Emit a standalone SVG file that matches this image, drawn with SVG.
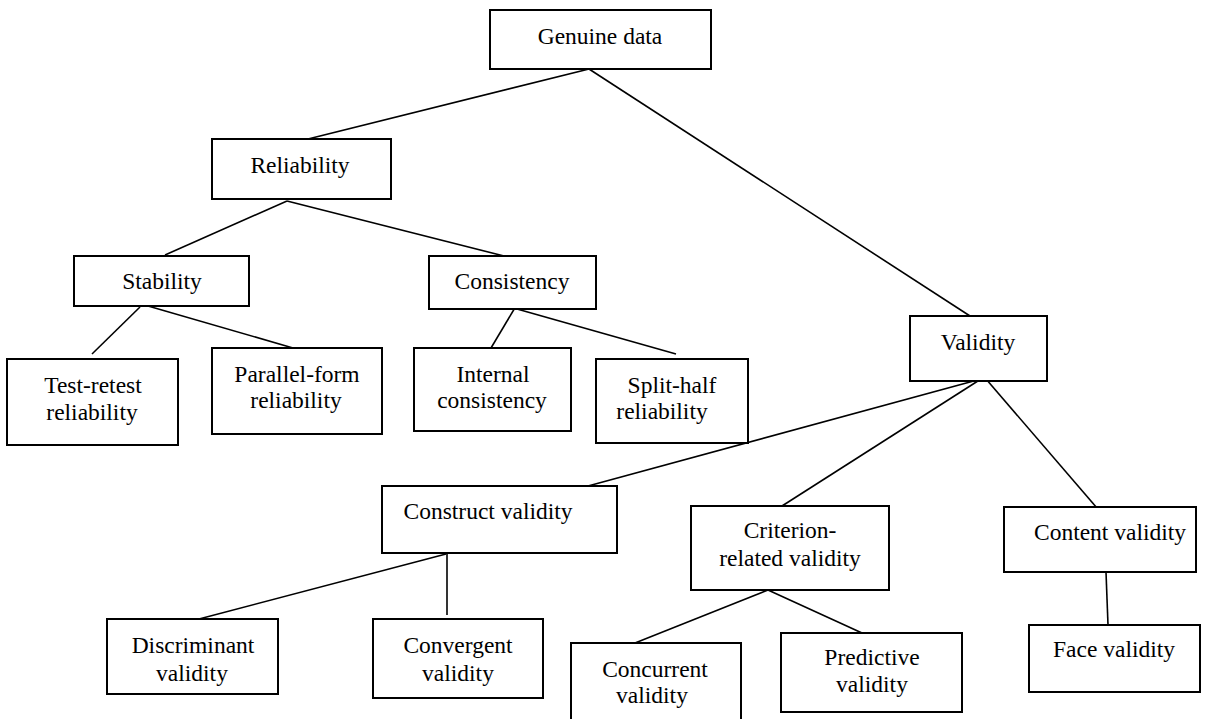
<svg xmlns="http://www.w3.org/2000/svg" width="1209" height="719" viewBox="0 0 1209 719">
<style>
.box{fill:#fff;stroke:#000;stroke-width:2}
.t{font-family:"Liberation Serif","Times New Roman",serif;font-size:23.5px;fill:#000;text-anchor:middle}
.c line{stroke:#000;stroke-width:1.6}
</style>
<rect width="1209" height="719" fill="#fff"/>
<g id="connectors" class="c">
<line x1="589" y1="69" x2="308" y2="139"/>
<line x1="589" y1="69" x2="970" y2="316"/>
<line x1="287" y1="201" x2="165" y2="255"/>
<line x1="287" y1="201" x2="504" y2="256"/>
<line x1="140" y1="307" x2="92" y2="354"/>
<line x1="148" y1="306" x2="293" y2="348"/>
<line x1="516" y1="306" x2="491" y2="348"/>
<line x1="517" y1="309" x2="676" y2="354"/>
<line x1="981" y1="379" x2="588" y2="486"/>
<line x1="981" y1="379" x2="782" y2="506"/>
<line x1="986" y1="379" x2="1103" y2="515"/>
<line x1="446" y1="554" x2="199" y2="619"/>
<line x1="447" y1="554" x2="447" y2="615"/>
<line x1="768" y1="590" x2="635" y2="643"/>
<line x1="768" y1="590" x2="862" y2="633"/>
<line x1="1106" y1="572" x2="1108" y2="625"/>
</g>
<g id="genuine-data"><rect class="box" x="490" y="10" width="221" height="59"/><text class="t" x="600" y="44">Genuine data</text></g>
<g id="reliability"><rect class="box" x="212" y="139" width="179" height="60"/><text class="t" x="300" y="173">Reliability</text></g>
<g id="stability"><rect class="box" x="74" y="256" width="175" height="50"/><text class="t" x="162" y="289">Stability</text></g>
<g id="consistency"><rect class="box" x="429" y="256" width="167" height="53"/><text class="t" x="512" y="289">Consistency</text></g>
<g id="test-retest"><rect class="box" x="7" y="359" width="171" height="86"/><text class="t" x="93" y="393">Test-retest</text><text class="t" x="92" y="420">reliability</text></g>
<g id="parallel-form"><rect class="box" x="212" y="348" width="170" height="86"/><text class="t" x="297" y="382">Parallel-form</text><text class="t" x="296" y="408">reliability</text></g>
<g id="internal-consistency"><rect class="box" x="414" y="348" width="157" height="83"/><text class="t" x="493" y="382">Internal</text><text class="t" x="492" y="408">consistency</text></g>
<g id="split-half"><rect class="box" x="596" y="359" width="152" height="84"/><text class="t" x="672" y="393">Split-half</text><text class="t" x="662" y="419">reliability</text></g>
<g id="validity"><rect class="box" x="910" y="316" width="137" height="65"/><text class="t" x="978" y="350">Validity</text></g>
<g id="construct-validity"><rect class="box" x="382" y="486" width="235" height="67"/><text class="t" x="488" y="519">Construct validity</text></g>
<g id="criterion-related-validity"><rect class="box" x="691" y="506" width="198" height="84"/><text class="t" x="790" y="538">Criterion-</text><text class="t" x="790" y="566">related validity</text></g>
<g id="content-validity"><rect class="box" x="1004" y="507" width="192" height="65"/><text class="t" x="1110" y="540">Content validity</text></g>
<g id="face-validity"><rect class="box" x="1029" y="625" width="171" height="67"/><text class="t" x="1114" y="657">Face validity</text></g>
<g id="discriminant-validity"><rect class="box" x="107" y="619" width="171" height="75"/><text class="t" x="193" y="653">Discriminant</text><text class="t" x="192" y="681">validity</text></g>
<g id="convergent-validity"><rect class="box" x="373" y="619" width="170" height="79"/><text class="t" x="458" y="653">Convergent</text><text class="t" x="458" y="681">validity</text></g>
<g id="concurrent-validity"><rect class="box" x="571" y="643" width="170" height="90"/><text class="t" x="655" y="677">Concurrent</text><text class="t" x="652" y="703">validity</text></g>
<g id="predictive-validity"><rect class="box" x="781" y="633" width="181" height="79"/><text class="t" x="872" y="665">Predictive</text><text class="t" x="872" y="692">validity</text></g>
</svg>
